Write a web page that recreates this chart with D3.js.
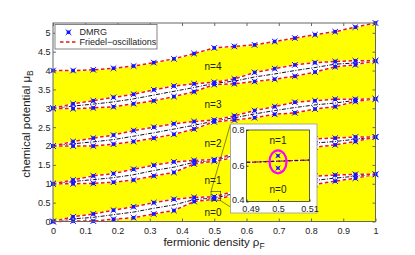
<!DOCTYPE html>
<html>
<head>
<meta charset="utf-8">
<script src="https://cdn.jsdelivr.net/npm/d3@7"></script>
<style>
  body { margin: 0; background: #fff; }
  svg { display: block; font-family: "Liberation Sans", Arial, sans-serif; }
</style>
</head>
<body>
<div id="chart"></div>
<script>
// ---- data ----
const rho = [0, 0.0625, 0.125, 0.1875, 0.25, 0.3125, 0.375, 0.4375, 0.5,
             0.5625, 0.625, 0.6875, 0.75, 0.8125, 0.875, 0.9375, 1];

// upper / lower branch of each transition band, DMRG points
const upper0 = [0, 0.125, 0.2, 0.3, 0.39, 0.5, 0.59, 0.64, 0.655, 0.8, 0.94, 1.04, 1.15, 1.2, 1.23, 1.25, 1.25];
const lower0 = [0, 0.01, 0.01, 0.06, 0.1, 0.2, 0.29, 0.53, 0.59, 0.69, 0.75, 0.82, 0.87, 0.98, 1.07, 1.145, 1.25];
const upper1 = [1, 1.1, 1.21, 1.27, 1.385, 1.49, 1.58, 1.62, 1.64, 1.8, 1.94, 2.04, 2.15, 2.19, 2.21, 2.24, 2.24];
const lower1 = [1, 1.0, 1.01, 1.04, 1.1, 1.21, 1.3, 1.525, 1.6, 1.69, 1.75, 1.82, 1.87, 1.97, 2.03, 2.12, 2.24];
const upper2 = [2, 2.12, 2.21, 2.29, 2.41, 2.5, 2.59, 2.65, 2.69, 2.8, 2.94, 3.045, 3.16, 3.2, 3.24, 3.24, 3.25];
const lower2 = [2, 2.0, 2.0, 2.05, 2.12, 2.21, 2.31, 2.45, 2.64, 2.69, 2.75, 2.84, 2.88, 2.98, 3.045, 3.18, 3.25];
const upper3 = [3, 3.12, 3.2, 3.29, 3.37, 3.49, 3.59, 3.65, 3.69, 3.78, 3.95, 4.05, 4.15, 4.21, 4.24, 4.26, 4.26];
const lower3 = [3, 2.99, 3.01, 3.04, 3.12, 3.2, 3.31, 3.44, 3.63, 3.65, 3.71, 3.77, 3.85, 3.96, 4.1, 4.15, 4.26];
const top4   = [4.0, 4.0, 4.02, 4.06, 4.12, 4.21, 4.31, 4.45, 4.6, 4.64, 4.68, 4.77, 4.86, 4.95, 5.03, 5.15, 5.26];

// black dash-dot guide through each band
const mid0 = [0, 0.07, 0.11, 0.18, 0.25, 0.35, 0.44, 0.58, 0.62, 0.74, 0.85, 0.93, 1.01, 1.09, 1.15, 1.2, 1.25];
const mid1 = [1, 1.06, 1.11, 1.16, 1.24, 1.35, 1.44, 1.57, 1.62, 1.75, 1.85, 1.93, 2.01, 2.08, 2.12, 2.18, 2.24];
const mid2 = [2, 2.06, 2.11, 2.17, 2.26, 2.35, 2.45, 2.55, 2.66, 2.75, 2.85, 2.94, 3.02, 3.09, 3.14, 3.21, 3.25];
const mid3 = [3, 3.06, 3.11, 3.17, 3.25, 3.35, 3.45, 3.55, 3.66, 3.72, 3.83, 3.91, 4.0, 4.08, 4.17, 4.2, 4.26];

const plateauLabels = ["n=0", "n=1", "n=2", "n=3", "n=4"];
const plateauMu = [0.24, 1.08, 2.08, 3.1, 4.1];

const xTicks = [0, 0.1, 0.2, 0.3, 0.4, 0.5, 0.6, 0.7, 0.8, 0.9, 1];
const yTicks = [0, 0.5, 1, 1.5, 2, 2.5, 3, 3.5, 4, 4.5, 5];

// inset (zoom on rho = 0.5, mu ~ 0.6)
const insetRho = [0.49, 0.51];
const insetLine = [0.619, 0.632];
const insetPts = [0.656, 0.587];
const insetXTicks = [0.49, 0.5, 0.51];
const insetYTicks = [0.4, 0.6, 0.8];

// ---- layout ----
const W = 415, H = 255;
const svg = d3.select("#chart").append("svg").attr("width", W).attr("height", H);

const x = d3.scaleLinear().domain([0, 1]).range([53, 375.5]);
const y = d3.scaleLinear().domain([0, 5.26]).range([221.5, 23]);

const RED = "#f01414", BLUE = "#1414ff", YEL = "#ffff00";

function marker(g, cx, cy, s) {
    g.append("rect").attr("x", cx - s / 2).attr("y", cy - s / 2)
        .attr("width", s).attr("height", s).attr("fill", BLUE);
    g.append("path")
        .attr("d", `M${cx - s * 0.8},${cy - s * 0.8}L${cx + s * 0.8},${cy + s * 0.8}M${cx - s * 0.8},${cy + s * 0.8}L${cx + s * 0.8},${cy - s * 0.8}`)
        .attr("stroke", BLUE).attr("stroke-width", 1);
}

function friedel(g, ys, xs, yscale) {
    const p = d3.line().x((d, i) => xs[i]).y(d => yscale(d))(ys);
    g.append("path").attr("d", p).attr("fill", "none")
        .attr("stroke", "#fff").attr("stroke-width", 1.6);
    g.append("path").attr("d", p).attr("fill", "none")
        .attr("stroke", RED).attr("stroke-width", 1.5).attr("stroke-dasharray", "3.5,2.5");
}

function dashDot(g, ys, xs, yscale) {
    g.append("path").attr("d", d3.line().x((d, i) => xs[i]).y(d => yscale(d))(ys))
        .attr("fill", "none").attr("stroke", "#111").attr("stroke-width", 1)
        .attr("stroke-dasharray", "4,1.5,1,1.5");
}

const plot = svg.append("g");
const px = rho.map(r => x(r));

// yellow plateaus up to the top boundary
plot.append("path")
    .attr("d", d3.area().x((d, i) => px[i]).y0(y(0)).y1(d => y(d))(top4))
    .attr("fill", YEL);

const bands = [[lower0, upper0, mid0], [lower1, upper1, mid1], [lower2, upper2, mid2], [lower3, upper3, mid3]];

// white gap between the two branches
bands.forEach(([lo, up]) => {
    plot.append("path")
        .attr("d", d3.area().x((d, i) => px[i]).y0((d, i) => y(lo[i])).y1(d => y(d))(up))
        .attr("fill", "#fff");
});

bands.forEach(([lo, up, mid]) => dashDot(plot, mid, px, y));
bands.forEach(([lo, up]) => { friedel(plot, lo, px, y); friedel(plot, up, px, y); });
friedel(plot, top4, px, y);

bands.forEach(([lo, up]) => {
    rho.forEach((r, i) => {
        marker(plot, x(r), y(up[i]), 3.5);
        marker(plot, x(r), y(lo[i]), 3.5);
    });
});
rho.forEach((r, i) => marker(plot, x(r), y(top4[i]), 3.5));

// plateau labels
plot.selectAll("text.n").data(plateauLabels).enter().append("text")
    .attr("x", 213).attr("y", (d, i) => y(plateauMu[i]))
    .attr("dy", "0.35em").attr("text-anchor", "middle")
    .attr("font-size", 10).attr("fill", "#222").text(d => d);

// axes box + inward ticks
const axG = svg.append("g");
const bottom = axG.append("g").attr("transform", `translate(0,${y(0)})`)
    .call(d3.axisBottom(x).tickValues(xTicks).tickSize(-3).tickPadding(6).tickFormat(d3.format("")));
const left = axG.append("g").attr("transform", `translate(${x(0)},0)`)
    .call(d3.axisLeft(y).tickValues(yTicks).tickSize(-3).tickPadding(2.5).tickFormat(d3.format("")));
const topAx = axG.append("g").attr("transform", `translate(0,${y.range()[1]})`)
    .call(d3.axisTop(x).tickValues(xTicks).tickSize(-3).tickFormat(""));
const rightAx = axG.append("g").attr("transform", `translate(${x(1)},0)`)
    .call(d3.axisRight(y).tickValues(yTicks).tickSize(-3).tickFormat(""));
[bottom, left, topAx, rightAx].forEach(a => {
    a.select(".domain").remove();
    a.selectAll("line").attr("stroke", "#666");
    a.selectAll("text").attr("font-size", 9).attr("fill", "#222")
        .attr("font-family", "Liberation Sans, Arial, sans-serif");
});
axG.append("rect").attr("x", x(0)).attr("y", y.range()[1])
    .attr("width", x(1) - x(0)).attr("height", y(0) - y.range()[1])
    .attr("fill", "none").attr("stroke", "#666").attr("stroke-width", 1);

// axis titles
const xl = svg.append("text").attr("x", 214).attr("y", 246)
    .attr("text-anchor", "middle").attr("font-size", 11.5).attr("fill", "#222");
xl.append("tspan").text("fermionic density \u03C1");
xl.append("tspan").attr("font-size", 8.5).attr("dy", 3).text("F");

const yl = svg.append("text").attr("transform", "translate(29.5,124) rotate(-90)")
    .attr("text-anchor", "middle").attr("font-size", 11.5).attr("fill", "#222");
yl.append("tspan").text("chemical potential \u03BC");
yl.append("tspan").attr("font-size", 8.5).attr("dy", 3).text("B");

// legend
const lg = svg.append("g");
lg.append("rect").attr("x", 55).attr("y", 24.5).attr("width", 102).attr("height", 24.5)
    .attr("fill", "#fff").attr("stroke", "#666").attr("stroke-width", 0.8);
marker(lg, 68.5, 32.3, 3.5);
lg.append("text").attr("x", 79.5).attr("y", 32.3).attr("dy", "0.35em")
    .attr("font-size", 9).attr("fill", "#222").text("DMRG");
lg.append("line").attr("x1", 60).attr("x2", 77).attr("y1", 42).attr("y2", 42)
    .attr("stroke", RED).attr("stroke-width", 1.5).attr("stroke-dasharray", "3.5,2.5");
lg.append("text").attr("x", 79.5).attr("y", 42).attr("dy", "0.35em")
    .attr("font-size", 9).attr("fill", "#222").text("Friedel\u2212oscillations");

// zoom box + connectors
const zoomBox = { x0: x(0.49), x1: x(0.52), y0: y(0.8), y1: y(0.55) };
svg.append("rect").attr("x", zoomBox.x0).attr("y", zoomBox.y0)
    .attr("width", zoomBox.x1 - zoomBox.x0).attr("height", zoomBox.y1 - zoomBox.y0)
    .attr("fill", "none").attr("stroke", "#333").attr("stroke-width", 0.6);

const inBox = { x0: 230.5, y0: 124, x1: 317, y1: 213 };
svg.append("line").attr("x1", zoomBox.x0).attr("y1", zoomBox.y0)
    .attr("x2", inBox.x0).attr("y2", inBox.y0).attr("stroke", "#333").attr("stroke-width", 0.6);
svg.append("line").attr("x1", zoomBox.x1).attr("y1", zoomBox.y1)
    .attr("x2", inBox.x0).attr("y2", 207).attr("stroke", "#333").attr("stroke-width", 0.6);

// inset
const ins = svg.append("g");
ins.append("rect").attr("x", inBox.x0).attr("y", inBox.y0)
    .attr("width", inBox.x1 - inBox.x0).attr("height", inBox.y1 - inBox.y0)
    .attr("fill", "#fff").attr("stroke", "#999").attr("stroke-width", 0.8);

const ix = d3.scaleLinear().domain([0.49, 0.51]).range([246.5, 309.5]);
const iy = d3.scaleLinear().domain([0.4, 0.8]).range([201.5, 130]);

ins.append("rect").attr("x", ix(0.49)).attr("y", iy(0.8))
    .attr("width", ix(0.51) - ix(0.49)).attr("height", iy(0.4) - iy(0.8))
    .attr("fill", YEL);

const ipx = insetRho.map(r => ix(r));
friedel(ins, insetLine, ipx, iy);
dashDot(ins, insetLine, ipx, iy);
insetPts.forEach(m => marker(ins, ix(0.5), iy(m), 3));

ins.append("ellipse").attr("cx", ix(0.5)).attr("cy", iy(0.622))
    .attr("rx", 8.5).attr("ry", 11.5)
    .attr("fill", "none").attr("stroke", "#ff00ff").attr("stroke-width", 2.2);

ins.append("text").attr("x", ix(0.5)).attr("y", iy(0.74)).attr("dy", "0.35em")
    .attr("text-anchor", "middle").attr("font-size", 10).attr("fill", "#222").text("n=1");
ins.append("text").attr("x", ix(0.5)).attr("y", iy(0.466)).attr("dy", "0.35em")
    .attr("text-anchor", "middle").attr("font-size", 10).attr("fill", "#222").text("n=0");

const ib = ins.append("g").attr("transform", `translate(0,${iy(0.4)})`)
    .call(d3.axisBottom(ix).tickValues(insetXTicks).tickSize(-2).tickPadding(4).tickFormat(d3.format("")));
const il = ins.append("g").attr("transform", `translate(${ix(0.49)},0)`)
    .call(d3.axisLeft(iy).tickValues(insetYTicks).tickSize(-2).tickPadding(2).tickFormat(d3.format("")));
[ib, il].forEach(a => {
    a.select(".domain").remove();
    a.selectAll("line").attr("stroke", "#333");
    a.selectAll("text").attr("font-size", 9).attr("fill", "#222")
        .attr("font-family", "Liberation Sans, Arial, sans-serif");
});
// keep the corner labels 0.4 / 0.49 apart, as in the reference
ib.selectAll("text").filter(d => d === 0.49).attr("dx", 4);
il.selectAll("text").filter(d => d === 0.4).attr("dy", "0.1em");
ins.append("rect").attr("x", ix(0.49)).attr("y", iy(0.8))
    .attr("width", ix(0.51) - ix(0.49)).attr("height", iy(0.4) - iy(0.8))
    .attr("fill", "none").attr("stroke", "#333").attr("stroke-width", 0.8);
</script>
</body>
</html>
